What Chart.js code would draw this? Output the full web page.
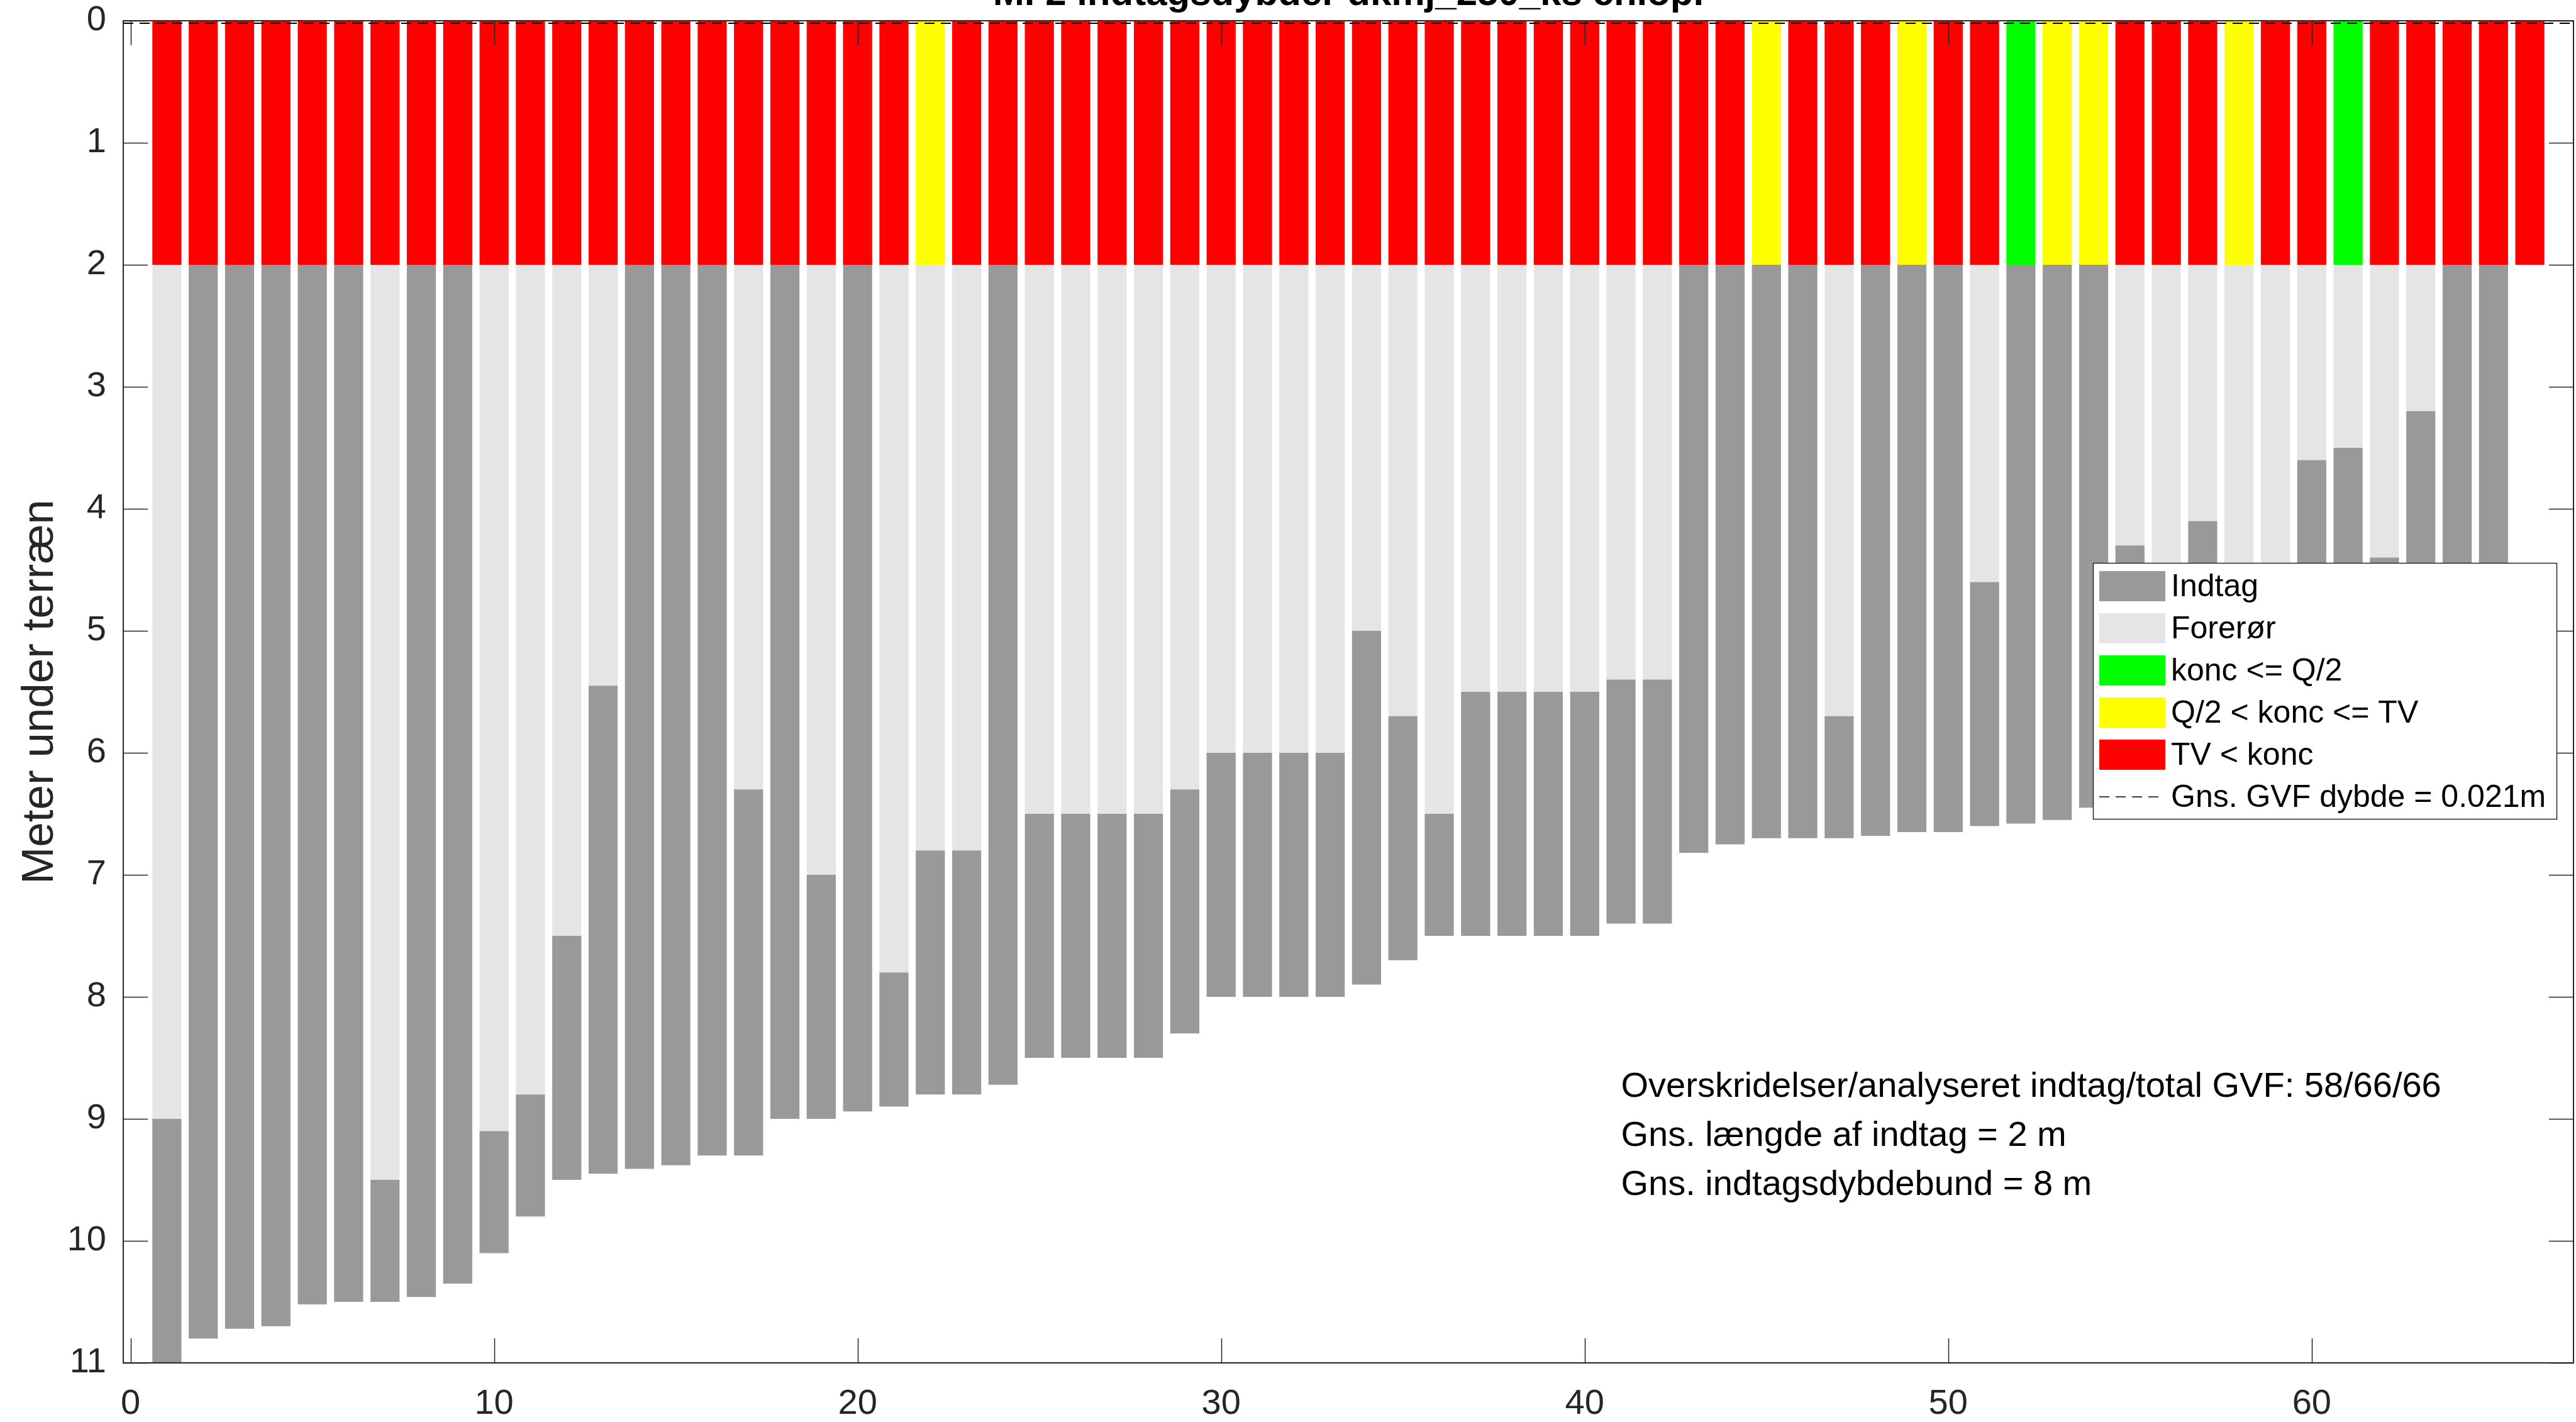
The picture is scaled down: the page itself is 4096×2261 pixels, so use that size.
<!DOCTYPE html>
<html>
<head>
<meta charset="utf-8">
<title>Indtagsdybder</title>
<script src="https://cdn.jsdelivr.net/npm/chart.js@4.4.1/dist/chart.umd.min.js"></script>
<style>
  html, body { margin: 0; padding: 0; background: #fff; }
  #wrap { width: 4096px; height: 2261px; }
</style>
</head>
<body>
<div id="wrap"><canvas id="depthChart" width="4096" height="2261"></canvas></div>
<script>
// --- data (metres below terrain) ---
const wells = Array.from({ length: 66 }, (_, i) => i + 1);

// top of the screened interval (indtag); 2 means there is no visible forerør
const intakeTop = [
  9.0, 2.0, 2.0, 2.0, 2.0, 2.0, 9.5, 2.0, 2.0, 9.1,
  8.8, 7.5, 5.45, 2.0, 2.0, 2.0, 6.3, 2.0, 7.0, 2.0,
  7.8, 6.8, 6.8, 2.0, 6.5, 6.5, 6.5, 6.5, 6.3, 6.0,
  6.0, 6.0, 6.0, 5.0, 5.7, 6.5, 5.5, 5.5, 5.5, 5.5,
  5.4, 5.4, 2.0, 2.0, 2.0, 2.0, 5.7, 2.0, 2.0, 2.0,
  4.6, 2.0, 2.0, 2.0, 4.3, 4.5, 4.1, 4.5, 4.5, 3.6,
  3.5, 4.4, 3.2, 2.0, 2.0, null
];

// bottom of the screened interval
const intakeBottom = [
  11.0, 10.8, 10.72, 10.7, 10.52, 10.5, 10.5, 10.46, 10.35, 10.1,
  9.8, 9.5, 9.45, 9.41, 9.38, 9.3, 9.3, 9.0, 9.0, 8.94,
  8.9, 8.8, 8.8, 8.72, 8.5, 8.5, 8.5, 8.5, 8.3, 8.0,
  8.0, 8.0, 8.0, 7.9, 7.7, 7.5, 7.5, 7.5, 7.5, 7.5,
  7.4, 7.4, 6.82, 6.75, 6.7, 6.7, 6.7, 6.68, 6.65, 6.65,
  6.6, 6.58, 6.55, 6.45, 6.3, 6.3, 6.2, 6.2, 6.1, 6.0,
  5.9, 5.9, 5.8, 5.7, 5.6, null
];

// concentration class per well: G = konc <= Q/2, Y = Q/2 < konc <= TV, R = TV < konc
const koncClass = [
  'R', 'R', 'R', 'R', 'R', 'R', 'R', 'R', 'R', 'R',
  'R', 'R', 'R', 'R', 'R', 'R', 'R', 'R', 'R', 'R',
  'R', 'Y', 'R', 'R', 'R', 'R', 'R', 'R', 'R', 'R',
  'R', 'R', 'R', 'R', 'R', 'R', 'R', 'R', 'R', 'R',
  'R', 'R', 'R', 'R', 'Y', 'R', 'R', 'R', 'Y', 'R',
  'R', 'G', 'Y', 'Y', 'R', 'R', 'R', 'Y', 'R', 'R',
  'G', 'R', 'R', 'R', 'R', 'R'
];

const koncSpan = [0, 2];        // coloured block at the top of every bar
const casingTop = 2;            // forerør starts below the coloured block
const meanGvfDepth = 0.021;

const xLimits = [-0.2, 67.2];
const yLimits = [0, 11];
const xTicks = [0, 10, 20, 30, 40, 50, 60];
const yTicks = [0, 1, 2, 3, 4, 5, 6, 7, 8, 9, 10, 11];

const titleText = 'M. 2 indtagsdybder dkmj_250_ks chlop.';
const yLabel = 'Meter under terræn';
const summaryLines = [
  'Overskridelser/analyseret indtag/total GVF: 58/66/66',
  'Gns. længde af indtag = 2 m',
  'Gns. indtagsdybdebund = 8 m'
];
const summaryAt = { x: 41, y: 9.14 };

// --- styling ---
const FONT = "'Liberation Sans', Arial, Helvetica, sans-serif";
const AXIS_COLOR = '#262626';
const DARK_GRAY = '#999999';
const LIGHT_GRAY = '#e5e5e5';

Chart.defaults.font.family = FONT;

function pick(cls) {
  return wells
    .map((x, i) => (koncClass[i] === cls ? { x, y: koncSpan } : null))
    .filter(Boolean);
}

const intakeData = wells
  .map((x, i) => (intakeTop[i] == null ? null : { x, y: [intakeTop[i], intakeBottom[i]] }))
  .filter(Boolean);

const casingData = wells
  .map((x, i) => (intakeTop[i] != null && intakeTop[i] > casingTop ? { x, y: [casingTop, intakeTop[i]] } : null))
  .filter(Boolean);

const barBase = { type: 'bar', grouped: false, borderWidth: 0, inflateAmount: 0, barPercentage: 0.8, categoryPercentage: 1, order: 1 };

const datasets = [
  { ...barBase, label: 'Indtag', data: intakeData, backgroundColor: DARK_GRAY },
  { ...barBase, label: 'Forerør', data: casingData, backgroundColor: LIGHT_GRAY },
  { ...barBase, label: 'konc <= Q/2', data: pick('G'), backgroundColor: '#00ff00' },
  { ...barBase, label: 'Q/2 < konc <= TV', data: pick('Y'), backgroundColor: '#ffff00' },
  { ...barBase, label: 'TV < konc', data: pick('R'), backgroundColor: '#ff0000' },
  {
    type: 'line',
    label: `Gns. GVF dybde = ${meanGvfDepth}m`,
    data: xLimits.map((x) => ({ x, y: meanGvfDepth })),
    borderColor: '#000000',
    borderWidth: 2,
    borderDash: [16, 10],
    pointRadius: 0,
    order: 0
  }
];

// MATLAB-like box with inward ticks on all four sides
const boxAxes = {
  id: 'boxAxes',
  afterDatasetsDraw(chart) {
    const { ctx, chartArea: a, scales: { x, y } } = chart;
    const tl = 39;
    ctx.save();
    ctx.strokeStyle = AXIS_COLOR;
    ctx.lineWidth = 1.5;
    ctx.beginPath();
    xTicks.forEach((v) => {
      const px = Math.round(x.getPixelForValue(v)) + 0.5;
      ctx.moveTo(px, a.bottom); ctx.lineTo(px, a.bottom - tl);
      ctx.moveTo(px, a.top); ctx.lineTo(px, a.top + tl);
    });
    yTicks.forEach((v) => {
      const py = Math.round(y.getPixelForValue(v)) + 0.5;
      ctx.moveTo(a.left, py); ctx.lineTo(a.left + tl, py);
      ctx.moveTo(a.right, py); ctx.lineTo(a.right - tl, py);
    });
    ctx.stroke();
    ctx.lineWidth = 2;
    ctx.strokeRect(a.left, a.top, a.right - a.left, a.bottom - a.top);
    ctx.restore();
  }
};

// title (cut by the top edge, as in the figure), summary text and legend
const overlay = {
  id: 'overlay',
  afterDraw(chart) {
    const { ctx, chartArea: a, scales: { x, y } } = chart;
    ctx.save();

    ctx.fillStyle = '#000';
    ctx.font = `bold 60px ${FONT}`;
    ctx.textAlign = 'center';
    ctx.textBaseline = 'alphabetic';
    ctx.fillText(titleText, (a.left + a.right) / 2, 8);

    ctx.font = `56px ${FONT}`;
    ctx.textAlign = 'left';
    ctx.textBaseline = 'middle';
    const sx = x.getPixelForValue(summaryAt.x);
    const sy = y.getPixelForValue(summaryAt.y);
    summaryLines.forEach((line, i) => ctx.fillText(line, sx, sy + (i - 1) * 78));

    // legend
    const rowH = 67, boxW = 737, boxH = 407;
    const bx = a.right - 27 - boxW, by = 895;
    ctx.fillStyle = '#fff';
    ctx.fillRect(bx, by, boxW, boxH);
    ctx.strokeStyle = AXIS_COLOR;
    ctx.lineWidth = 1.5;
    ctx.strokeRect(bx + 0.5, by + 0.5, boxW, boxH);
    ctx.font = `50px ${FONT}`;
    chart.data.datasets.forEach((ds, i) => {
      const cy = by + 37 + i * rowH;
      if (ds.type === 'line') {
        ctx.strokeStyle = ds.borderColor;
        ctx.lineWidth = 1.5;
        ctx.setLineDash(ds.borderDash);
        ctx.beginPath();
        ctx.moveTo(bx + 10, cy);
        ctx.lineTo(bx + 106, cy);
        ctx.stroke();
        ctx.setLineDash([]);
      } else {
        ctx.fillStyle = ds.backgroundColor;
        ctx.fillRect(bx + 10, cy - 24, 105, 48);
      }
      ctx.fillStyle = '#000';
      ctx.fillText(ds.label, bx + 124, cy + 2);
    });
    ctx.restore();
  }
};

const tickFont = { family: FONT, size: 56 };

new Chart(document.getElementById('depthChart'), {
  data: { datasets },
  options: {
    responsive: false,
    devicePixelRatio: 1,
    animation: false,
    events: [],
    layout: { padding: { top: 33, right: 4, left: 0, bottom: 0 } },
    plugins: { legend: { display: false }, tooltip: { enabled: false }, title: { display: false } },
    scales: {
      x: {
        type: 'linear',
        offset: false,
        min: xLimits[0],
        max: xLimits[1],
        grid: { display: false, offset: false },
        border: { display: false },
        ticks: { font: tickFont, color: AXIS_COLOR, padding: 24, maxRotation: 0, autoSkip: false },
        afterBuildTicks: (s) => { s.ticks = xTicks.map((value) => ({ value })); },
        afterFit: (s) => { s.height = 94; s.paddingLeft = 0; s.paddingRight = 0; }
      },
      y: {
        type: 'linear',
        reverse: true,
        stacked: false,
        min: yLimits[0],
        max: yLimits[1],
        grid: { display: false },
        border: { display: false },
        ticks: { font: tickFont, color: AXIS_COLOR, padding: 19, autoSkip: false },
        afterBuildTicks: (s) => { s.ticks = yTicks.map((value) => ({ value })); },
        afterFit: (s) => { s.width = 196; s.paddingTop = 0; s.paddingBottom = 0; },
        title: { display: true, text: yLabel, color: AXIS_COLOR, font: { family: FONT, size: 71 }, padding: { top: 22, bottom: 0 } }
      }
    }
  },
  plugins: [boxAxes, overlay]
});
</script>
</body>
</html>
